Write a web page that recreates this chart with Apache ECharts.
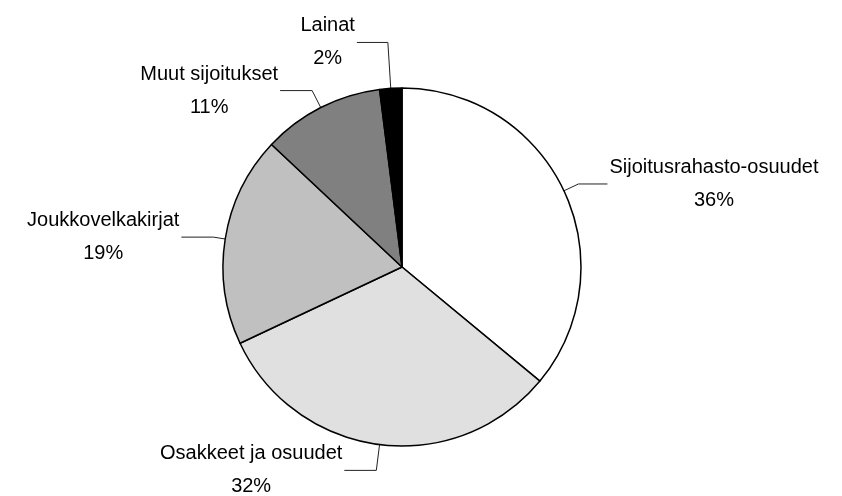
<!DOCTYPE html>
<html>
<head>
<meta charset="utf-8">
<script src="https://cdn.jsdelivr.net/npm/echarts@6/dist/echarts.min.js"></script>
<style>
  html, body { margin: 0; padding: 0; background: #fff; }
  #main { width: 842px; height: 496px; }
</style>
</head>
<body>
<div id="main"></div>
<script>
// sijoitusten jakauma (%)
var categories = ['Sijoitusrahasto-osuudet', 'Osakkeet ja osuudet', 'Joukkovelkakirjat', 'Muut sijoitukset', 'Lainat'];
var values = [36, 32, 19, 11, 2];
var colors = ['#ffffff', '#e0e0e0', '#c0c0c0', '#808080', '#000000'];
// leader line lengths per slice (radial, horizontal)
var lineLen = [16, 26, 12, 19, 46];
var lineLen2 = [29, 32, 32, 32, 31];

var chart = echarts.init(document.getElementById('main'));

var data = categories.map(function (name, i) {
  return {
    name: name,
    value: values[i],
    itemStyle: { color: colors[i] },
    labelLine: { length: lineLen[i], length2: lineLen2[i] }
  };
});

chart.setOption({
  animation: false,
  backgroundColor: '#fff',
  series: [{
    type: 'pie',
    center: [402, 267],
    radius: 179,
    startAngle: 90,
    clockwise: true,
    avoidLabelOverlap: false,
    itemStyle: { borderColor: '#000', borderWidth: 1.5 },
    label: {
      show: true,
      formatter: '{b}\n{d}%',
      color: '#000',
      fontSize: 20,
      lineHeight: 33,
      fontFamily: "'Liberation Sans Narrow', 'Arial Narrow', 'Liberation Sans', Arial, sans-serif",
      distanceToLabelLine: 2
    },
    labelLine: {
      show: true,
      lineStyle: { color: '#222', width: 1 }
    },
    // keep the box in place but centre the two lines of each label
    labelLayout: function (p) {
      var r = p.labelRect;
      return {
        x: r.x + r.width / 2,
        y: r.y + r.height / 2,
        align: 'center',
        verticalAlign: 'middle',
        labelLinePoints: p.labelLinePoints
      };
    },
    emphasis: { disabled: true },
    data: data
  }]
});
</script>
</body>
</html>
